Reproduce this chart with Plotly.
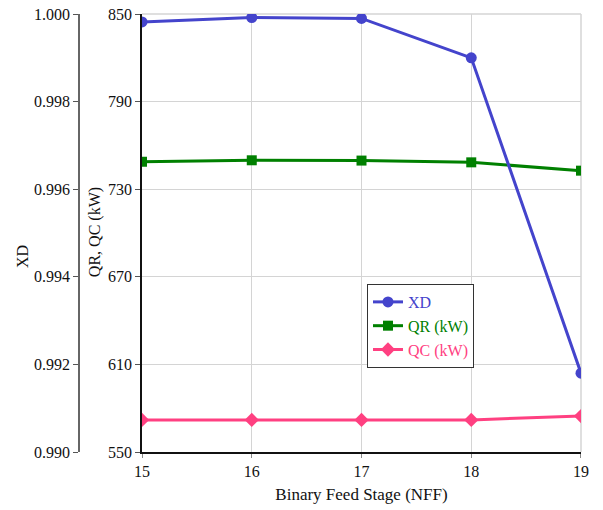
import plotly.graph_objects as go

stages = [15, 16, 17, 18, 19]
xd = [0.99982, 0.99992, 0.99990, 0.99900, 0.99180]
qr = [748.8, 749.8, 749.6, 748.4, 742.7]
qc = [572.0, 572.0, 572.0, 572.0, 574.6]

FONT = "Liberation Serif"
GRID = "#d4d4d4"
fig = go.Figure()
fig.add_trace(go.Scatter(x=stages, y=xd, yaxis="y2", mode="lines+markers",
                         name='<span style="color:#4444CC">XD</span>',
                         line=dict(color="#4444CC", width=3),
                         marker=dict(symbol="circle", size=11, color="#4444CC")))
fig.add_trace(go.Scatter(x=stages, y=qr, yaxis="y", mode="lines+markers",
                         name='<span style="color:#008000">QR (kW)</span>',
                         line=dict(color="#008000", width=3),
                         marker=dict(symbol="square", size=10, color="#008000")))
fig.add_trace(go.Scatter(x=stages, y=qc, yaxis="y", mode="lines+markers",
                         name='<span style="color:#FF4081">QC (kW)</span>',
                         line=dict(color="#FF4081", width=3),
                         marker=dict(symbol="diamond", size=11, color="#FF4081")))

fig.update_layout(
    width=603, height=510,
    margin=dict(l=20, r=22, t=14, b=58),
    paper_bgcolor="white", plot_bgcolor="white",
    font=dict(family=FONT, size=16, color="#111"),
    showlegend=True,
    legend=dict(x=0.6185, y=0.3836, xanchor="left", yanchor="top",
                bordercolor="#333", borderwidth=1, bgcolor="white",
                font=dict(family=FONT, size=16), tracegroupgap=0,
                itemwidth=30),
    xaxis=dict(domain=[0.2175, 1], range=[15, 19], dtick=1, tick0=15,
               showgrid=True, gridcolor=GRID, gridwidth=1,
               showline=True, linecolor="#111", linewidth=1.5,
               ticks="outside", ticklen=4, tickcolor="#888",
               zeroline=False, automargin=False, ticklabeloverflow="allow",
               title=dict(text="Binary Feed Stage (NFF)", font=dict(family=FONT, size=17), standoff=9)),
    yaxis=dict(range=[550, 850.0001], tickvals=[550, 610, 670, 730, 790, 850],
               showgrid=True, gridcolor=GRID, gridwidth=1,
               showline=True, linecolor="#111", linewidth=1.5,
               ticks="outside", ticklen=5, tickcolor="#555",
               zeroline=False, automargin=False, ticklabeloverflow="allow"),
    yaxis2=dict(range=[0.990, 1.0000001], tickvals=[0.990, 0.992, 0.994, 0.996, 0.998, 1.000],
                tickformat=".3f",
                overlaying="y", anchor="free", position=0.1052, side="left",
                showgrid=False, showline=True, linecolor="#666", linewidth=1.5,
                ticks="outside", ticklen=5, tickcolor="#555", zeroline=False,
                automargin=False, ticklabeloverflow="allow"),
    shapes=[
        dict(type="line", xref="x domain", yref="y domain", x0=0, x1=1, y0=1, y1=1,
             line=dict(color=GRID, width=1.5), layer="below"),
        dict(type="line", xref="x domain", yref="y domain", x0=1, x1=1, y0=0, y1=1,
             line=dict(color=GRID, width=1.5), layer="below"),
    ],
    annotations=[
        dict(text="XD", xref="paper", yref="paper", x=0.0036, y=0.445,
             xanchor="center", yanchor="middle", textangle=-90, showarrow=False,
             font=dict(family=FONT, size=16)),
        dict(text="QR, QC (kW)", xref="paper", yref="paper", x=0.1337, y=0.502,
             xanchor="center", yanchor="middle", textangle=-90, showarrow=False,
             font=dict(family=FONT, size=16)),
    ],
)
fig.write_html("out.html", config={"displayModeBar": False},
               post_script="document.body.style.margin='0';")
